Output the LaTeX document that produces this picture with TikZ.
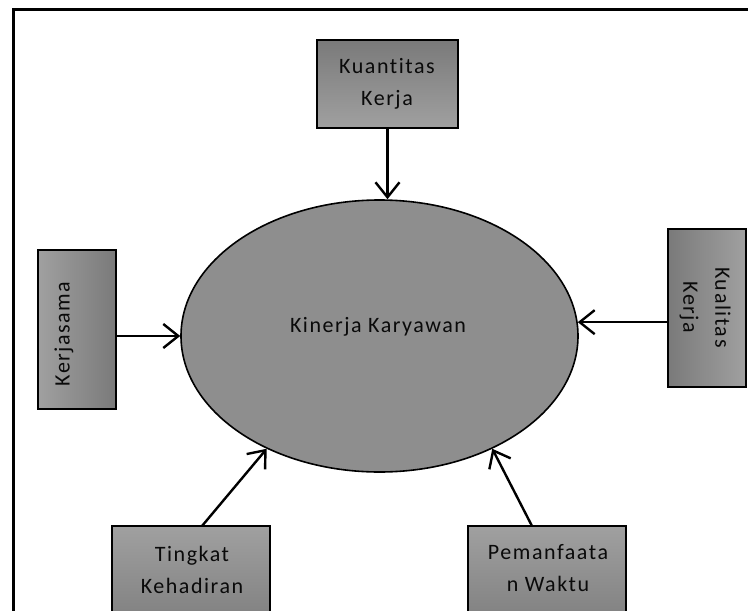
\documentclass[tikz,border=0pt]{standalone}
\usepackage{fontspec}
\setmainfont{Carlito}[LetterSpace=7,Ligatures=NoCommon]
\usetikzlibrary{shapes.geometric,arrows.meta}
\begin{document}
\begin{tikzpicture}[x=1pt,y=-1pt,
  box/.style={draw=black, line width=2pt, inner sep=0pt, outer sep=0pt},
  vbox/.style={box, top color=boxlight, bottom color=boxdark},
  vboxr/.style={box, top color=boxdark, bottom color=boxlight},
  hboxl/.style={box, left color=boxlight, right color=boxdark},
  hboxr/.style={box, left color=boxdark, right color=boxlight},
  lbl/.style={font=\fontsize{22}{32}\selectfont, text=textc, align=center, inner sep=0pt},
  arr/.style={line width=2.4pt, -{Straight Barb[length=15pt,width=24pt]}}]
\definecolor{boxlight}{HTML}{A0A0A0}
\definecolor{boxdark}{HTML}{7A7A7A}
\definecolor{ellfill}{HTML}{8E8E8E}
\definecolor{textc}{HTML}{0A0A0A}
\useasboundingbox (0,0) rectangle (748,611);
\clip (0,0) rectangle (748,611);
\draw[line width=3pt] (13,620) -- (13,9) -- (752,9);
% ellipse
\node[draw=black, ellipse, fill=ellfill, line width=1.6pt, minimum width=397pt, minimum height=272pt, inner sep=0pt] (kk) at (379.5,336) {};
\node[lbl] (kkt) at (378,327) {Kinerja Karyawan};
% boxes
\node[vboxr, minimum width=141pt, minimum height=88pt] (kq) at (387.5,84) {};
\node[lbl] (kqt) at (387,84) {Kuantitas\\Kerja};
\node[hboxl, minimum width=78pt, minimum height=159pt] (ks) at (77,329.5) {};
\node[lbl, rotate=90] (kst) at (64,334) {Kerjasama};
\node[hboxr, minimum width=78pt, minimum height=158pt] (kl) at (707,308) {};
\node[lbl, rotate=-90] (klt) at (705,307.5) {Kualitas\\Kerja};
\node[vbox, minimum width=158pt, minimum height=114pt] (kt) at (191,583) {};
\node[lbl] (ktt) at (192,569.5) {Tingkat\\Kehadiran};
\node[vbox, minimum width=158pt, minimum height=114pt] (kp) at (547,583) {};
\node[lbl] (kpt) at (548,568) {Pemanfaata\\n Waktu};
% arrows
\draw[arr] (kq.south) -- (kq.south |- kk.north);
\draw[arr] (kk.west -| ks.east) -- (kk.west);
\draw[arr] (kk.4 -| kl.west) -- (kk.4);
\draw[arr] ([xshift=11pt]kt.north) -- (kk.225.6);
\draw[arr] ([xshift=-15pt]kp.north) -- (kk.315.4);
\end{tikzpicture}
\end{document}
